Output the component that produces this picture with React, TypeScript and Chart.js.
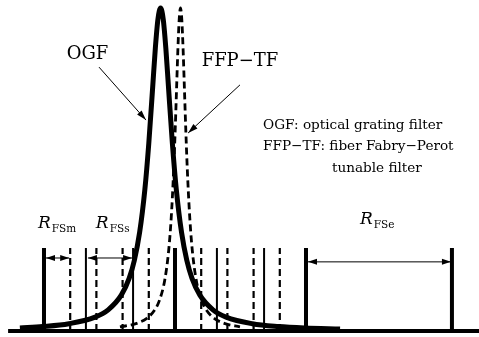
import React, { useEffect, useRef } from "react";
import { Chart, registerables } from "chart.js";

Chart.register(...registerables);

// Relative frequency (1 unit = spacing of the dashed FFP-TF modes), normalised transmission
const ogfX = [-5.92, -5.05, -4.05, -3.05, -2.55, -2.05, -1.75, -1.55, -1.35, -1.15, -1.0, -0.85, -0.75, -0.65, -0.55, -0.45, -0.35, -0.25, -0.1, 0.05, 0.25, 0.45, 0.65, 0.95, 1.45, 1.95, 2.95, 3.95, 4.95, 6.3];
const ogfY = [0.0096, 0.0137, 0.0224, 0.043, 0.0656, 0.111, 0.163, 0.219, 0.305, 0.438, 0.581, 0.757, 0.876, 0.966, 1.0, 0.966, 0.876, 0.757, 0.581, 0.438, 0.305, 0.219, 0.163, 0.111, 0.0656, 0.043, 0.0224, 0.0137, 0.0092, 0.006];

const ffpX = [-2.1, -1.49, -1.09, -0.79, -0.59, -0.39, -0.24, -0.14, -0.05, 0.01, 0.06, 0.11, 0.16, 0.21, 0.26, 0.31, 0.36, 0.41, 0.47, 0.56, 0.66, 0.81, 1.01, 1.21, 1.51, 1.91, 2.48];
const ffpY = [0.0125, 0.0229, 0.0385, 0.0633, 0.0955, 0.158, 0.25, 0.356, 0.5, 0.628, 0.75, 0.871, 0.964, 1.0, 0.964, 0.871, 0.75, 0.628, 0.5, 0.356, 0.25, 0.158, 0.0955, 0.0633, 0.0385, 0.0229, 0.013];

const thickLineX = [-5, 0, 5, 10.57];
const thinLineX = [-3.4, -1.6, 1.6, 3.4];
const dashedLineX = [-4, -3, -2, -1, 1, 2, 3, 4];
const lineTop = 0.257;
const baseX = [-6.37, 11.7];

const rangeFrom = [-5, -3.4, 5];
const rangeTo = [-4, -1.6, 10.57];
const rangeSubs = ["FSm", "FSs", "FSe"];

const legendLines = ["OGF: optical grating filter", "FFP\u2212TF: fiber Fabry\u2212Perot", "tunable filter"];
const curveNames = ["OGF", "FFP\u2212TF"];

// annotation placement (data units)
const rangeArrowY = [0.226, 0.226, 0.214];
const rangeLabelPos = [
  { x: -5.23, y: 0.319 },
  { x: -3.02, y: 0.319 },
  { x: 7.06, y: 0.331 },
];
const curveNamePos = [
  { x: -3.34, y: 0.842 },
  { x: 2.48, y: 0.82 },
];
const pointerArrows = [
  { x1: -2.9, y1: 0.817, x2: -1.107, y2: 0.653 },
  { x1: 2.48, y1: 0.762, x2: 0.5, y2: 0.613 },
];
const legendPos = [
  { x: 3.36, y: 0.625 },
  { x: 3.36, y: 0.559 },
  { x: 5.99, y: 0.492 },
];

const SERIF = '"DejaVu Serif", "Liberation Serif", serif';

function vLines(xs: number[]) {
  const out: any[] = [];
  xs.forEach((x) => {
    out.push({ x, y: 0 }, { x, y: lineTop }, { x, y: null });
  });
  return out;
}

function head(ctx: CanvasRenderingContext2D, x: number, y: number, ang: number, len = 9, hw = 3) {
  ctx.beginPath();
  ctx.moveTo(x, y);
  ctx.lineTo(x - len * Math.cos(ang) + hw * Math.sin(ang), y - len * Math.sin(ang) - hw * Math.cos(ang));
  ctx.lineTo(x - len * Math.cos(ang) - hw * Math.sin(ang), y - len * Math.sin(ang) + hw * Math.cos(ang));
  ctx.closePath();
  ctx.fill();
}

const annotPlugin = {
  id: "annot",
  afterDatasetsDraw(chart: any) {
    const { ctx } = chart;
    const sx = chart.scales.x;
    const sy = chart.scales.y;
    const px = (v: number) => sx.getPixelForValue(v);
    const py = (v: number) => sy.getPixelForValue(v);
    ctx.save();
    ctx.fillStyle = "#000";
    ctx.strokeStyle = "#000";
    ctx.lineWidth = 1;

    // range double arrows
    rangeFrom.forEach((f, i) => {
      const x1 = px(f) + 2;
      const x2 = px(rangeTo[i]) - 1;
      const y = py(rangeArrowY[i]);
      ctx.beginPath();
      ctx.moveTo(x1, y);
      ctx.lineTo(x2, y);
      ctx.stroke();
      head(ctx, x1, y, Math.PI);
      head(ctx, x2, y, 0);
    });

    // pointer arrows
    pointerArrows.forEach((a) => {
      const x1 = px(a.x1), y1 = py(a.y1), x2 = px(a.x2), y2 = py(a.y2);
      ctx.beginPath();
      ctx.moveTo(x1, y1);
      ctx.lineTo(x2, y2);
      ctx.stroke();
      head(ctx, x2, y2, Math.atan2(y2 - y1, x2 - x1), 10, 3);
    });

    // curve names
    ctx.textAlign = "center";
    ctx.textBaseline = "alphabetic";
    ctx.font = `18px ${SERIF}`;
    curveNames.forEach((t, i) => {
      ctx.fillText(t, px(curveNamePos[i].x), py(curveNamePos[i].y));
    });

    // legend text
    ctx.textAlign = "left";
    ctx.font = `13.6px ${SERIF}`;
    legendLines.forEach((t, i) => {
      ctx.fillText(t, px(legendPos[i].x), py(legendPos[i].y));
    });

    // R labels with subscripts
    rangeSubs.forEach((s, i) => {
      const x = px(rangeLabelPos[i].x);
      const y = py(rangeLabelPos[i].y);
      ctx.font = `italic 17px ${SERIF}`;
      ctx.fillText("R", x, y);
      const w = ctx.measureText("R").width;
      ctx.font = `10.5px ${SERIF}`;
      ctx.fillText(s, x + w + 1, y + 4);
    });
    ctx.restore();
  },
};

export default function App() {
  const ref = useRef<HTMLCanvasElement>(null);
  useEffect(() => {
    if (!ref.current) return;
    const chart = new Chart(ref.current, {
      type: "line",
      data: {
        datasets: [
          {
            data: baseX.map((x) => ({ x, y: 0 })),
            borderColor: "#000",
            borderWidth: 4,
            pointRadius: 0,
          },
          {
            data: vLines(thickLineX),
            borderColor: "#000",
            borderWidth: 4,
            pointRadius: 0,
            spanGaps: false,
          },
          {
            data: vLines(thinLineX),
            borderColor: "#000",
            borderWidth: 2,
            pointRadius: 0,
            spanGaps: false,
          },
          {
            data: vLines(dashedLineX),
            borderColor: "#000",
            borderWidth: 2.2,
            borderDash: [7, 4],
            pointRadius: 0,
            spanGaps: false,
          },
          {
            data: ffpX.map((x, i) => ({ x, y: ffpY[i] })),
            borderColor: "#000",
            borderWidth: 2.8,
            borderDash: [7, 4],
            pointRadius: 0,
            cubicInterpolationMode: "monotone",
          },
          {
            data: ogfX.map((x, i) => ({ x, y: ogfY[i] })),
            borderColor: "#000",
            borderWidth: 5,
            pointRadius: 0,
            cubicInterpolationMode: "monotone",
          },
        ] as any,
      },
      options: {
        animation: false,
        responsive: false,
        layout: { padding: 0 },
        plugins: { legend: { display: false }, tooltip: { enabled: false } },
        scales: {
          x: { type: "linear", display: false, min: -6.679, max: 11.603 },
          y: { type: "linear", display: false, min: -0.0186, max: 1.0248 },
        },
      },
      plugins: [annotPlugin],
    });
    return () => chart.destroy();
  }, []);
  return (
    <div style={{ position: "fixed", left: 0, top: 0, width: 479, height: 337, background: "#fff" }}>
      <canvas ref={ref} width={479} height={337} />
    </div>
  );
}
